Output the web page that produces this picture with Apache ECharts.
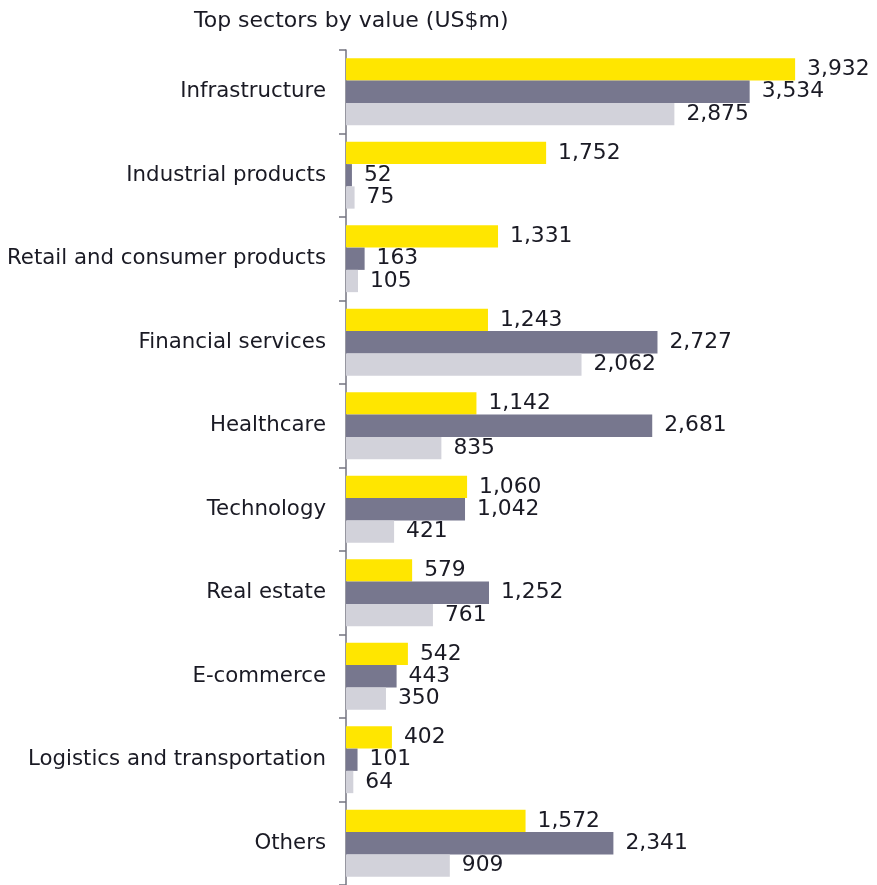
<!DOCTYPE html>
<html>
<head>
<meta charset="utf-8">
<script src="https://cdn.jsdelivr.net/npm/echarts@6/dist/echarts.min.js"></script>
<style>
  html, body { margin: 0; padding: 0; background: #fff; }
  #chart { width: 877px; height: 885px; }
</style>
</head>
<body>
<div id="chart"></div>
<script>
// Sector names, top to bottom
const sectors = [
  'Infrastructure',
  'Industrial products',
  'Retail and consumer products',
  'Financial services',
  'Healthcare',
  'Technology',
  'Real estate',
  'E-commerce',
  'Logistics and transportation',
  'Others'
];
// Deal values in US$m for the three periods
const seriesA = [3932, 1752, 1331, 1243, 1142, 1060, 579, 542, 402, 1572];
const seriesB = [3534, 52, 163, 2727, 2681, 1042, 1252, 443, 101, 2341];
const seriesC = [2875, 75, 105, 2062, 835, 421, 761, 350, 64, 909];

const FONT = 'DejaVu Sans';
const TEXT = '#1a1a24';

const chart = echarts.init(document.getElementById('chart'), null, { renderer: 'canvas' });

function bar(name, values, color) {
  return {
    name: name,
    type: 'bar',
    data: values,
    barGap: '0%',
    barCategoryGap: '20%',
    itemStyle: { color: color },
    label: {
      show: true,
      position: 'right',
      distance: 12,
      color: TEXT,
      fontFamily: FONT,
      fontSize: 21.8,
      formatter: p => p.value.toLocaleString('en-US')
    },
    animation: false
  };
}

chart.setOption({
  animation: false,
  title: {
    text: 'Top sectors by value (US$m)',
    left: 189,
    top: 5,
    textStyle: { fontFamily: FONT, fontSize: 22, fontWeight: 'normal', color: TEXT }
  },
  grid: { left: 346, right: 17, top: 50, bottom: 0, containLabel: false },
  xAxis: {
    type: 'value',
    min: 0,
    max: 4500,
    show: false
  },
  yAxis: {
    type: 'category',
    data: sectors,
    inverse: true,
    axisLine: { show: true, lineStyle: { color: '#747480', width: 1.5 } },
    axisTick: { show: true, length: 7, lineStyle: { color: '#747480', width: 1.5 } },
    axisLabel: { color: TEXT, fontFamily: FONT, fontSize: 21.3, margin: 20 },
    splitLine: { show: false }
  },
  series: [
    bar('A', seriesA, '#FFE600'),
    bar('B', seriesB, '#77778E'),
    bar('C', seriesC, '#D2D2DA')
  ]
});
</script>
</body>
</html>
